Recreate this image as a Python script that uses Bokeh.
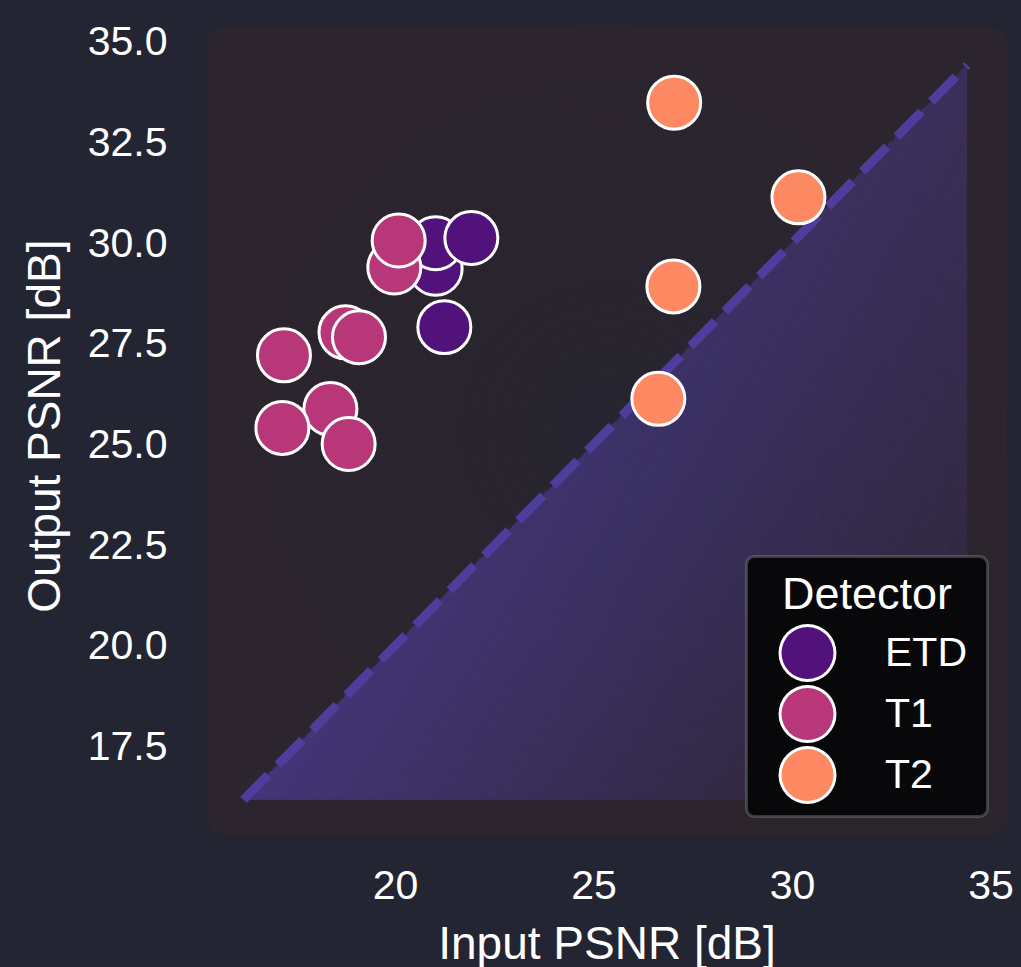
import numpy as np
from bokeh.plotting import figure
from bokeh.models import (Range1d, FixedTicker, NumeralTickFormatter, BoxAnnotation,
                          Legend, LegendItem, Label, GlobalInlineStyleSheet)
from bokeh.embed import file_html
from bokeh.resources import INLINE

# ---------------- data ----------------
detectors = ["ETD", "T1", "T2"]
palette = ["#51127c", "#b73779", "#fc8961"]

etd_input = [21.01, 21.01, 21.91, 21.23]
etd_output = [29.35, 29.98, 30.11, 27.90]
t1_input = [18.74, 19.08, 17.19, 18.36, 17.15, 18.82, 19.97, 20.08]
t1_output = [27.77, 27.65, 27.20, 25.87, 25.40, 25.00, 29.38, 30.05]
t2_input = [27.02, 30.15, 27.00, 26.62]
t2_output = [33.47, 31.12, 28.91, 26.12]

x_ticks = [20, 25, 30, 35]
y_ticks = [17.5, 20.0, 22.5, 25.0, 27.5, 30.0, 32.5, 35.0]
diag_lo, diag_hi = 16.17, 34.40
x_title = "Input PSNR [dB]"
y_title = "Output PSNR [dB]"
legend_title = "Detector"

# ---------------- style ----------------
FONT = "Liberation Sans"
PAGE_BG = "#232533"
PANEL_BG = "#2d252e"
TEXT = "#ffffff"
DIAG = "#4e3d9c"
NBSP = "\u00a0"

# panel (axes area) limits
X0, X1 = 15.239, 35.416
Y0, Y1 = 15.285, 35.385
PANEL_W, PANEL_H = 801, 810     # px size of the rounded panel
FRAME_W, FRAME_H = 815, 942     # frame runs to the right / bottom edge of the canvas
OFF = FRAME_H - PANEL_H         # px between panel bottom and frame bottom
XR = X0 + (X1 - X0) * FRAME_W / PANEL_W
YB = Y1 - (Y1 - Y0) * FRAME_H / PANEL_H

p = figure(width=1021, height=967, output_backend="svg", toolbar_location=None,
           x_range=Range1d(X0, XR), y_range=Range1d(YB, Y1),
           min_border_left=206, min_border_right=0, min_border_top=25, min_border_bottom=0,
           background_fill_color=PAGE_BG, border_fill_color=PAGE_BG, outline_line_color=None)
p.stylesheets = [GlobalInlineStyleSheet(css="html, body { background: %s; }" % PAGE_BG)]
p.grid.visible = False

for ax in (p.xaxis[0], p.yaxis[0]):
    ax.axis_line_color = None
    ax.major_tick_line_color = None
    ax.minor_tick_line_color = None
    ax.major_tick_out = 0
    ax.major_tick_in = 0
    ax.major_label_text_font = FONT
    ax.major_label_text_font_size = "41px"
    ax.major_label_text_color = TEXT
    ax.axis_label_text_font = FONT
    ax.axis_label_text_font_size = "46px"
    ax.axis_label_text_font_style = "normal"
    ax.axis_label_text_color = TEXT

p.xaxis.ticker = FixedTicker(ticks=x_ticks)
p.yaxis.ticker = FixedTicker(ticks=y_ticks)
p.yaxis.formatter = NumeralTickFormatter(format="0.0")
# the y title is centred on the (taller) frame; non-breaking spaces re-centre it on the panel
p.xaxis.axis_label = x_title
p.yaxis.axis_label = NBSP * 11 + y_title
p.xaxis.fixed_location = Y0
p.xaxis.bounds = (X0, X1)
p.yaxis.bounds = (Y0, Y1)
p.xaxis.major_label_standoff = 35
p.xaxis.axis_label_standoff = 15
p.yaxis.major_label_standoff = 39
p.yaxis.axis_label_standoff = 15

# rounded panel
panel = BoxAnnotation(left=X0, right=X1, bottom=Y0, top=Y1, fill_color=PANEL_BG,
                      fill_alpha=1, line_color=None, border_radius=20, level="underlay")
p.add_layout(panel)

# subtle darker centre of the panel
N = 300
ii, jj = np.mgrid[0:N, 0:N]
cx = (jj + 0.5) / N - 0.5
cy = (ii + 0.5) / N - 0.5
r = np.sqrt(cx ** 2 + cy ** 2)
a_rad = 0.65 * np.clip(1 - r / 0.5, 0, 1) ** 1.2
rad = np.zeros((N, N), dtype=np.uint32)
v = rad.view(dtype=np.uint8).reshape((N, N, 4))
v[..., 0], v[..., 1], v[..., 2] = 35, 37, 50
v[..., 3] = (a_rad * 255).astype(np.uint8)
p.image_rgba(image=[rad], x=X0, y=Y0, dw=X1 - X0, dh=Y1 - Y0)

# gradient triangle under the identity line
M = 400
ii, jj = np.mgrid[0:M, 0:M]
s = (jj + 0.5) / M
t = (ii + 0.5) / M
u = s - t
w = (s + t) / 2
a_tri = np.where(u >= 0, 0.80 * np.clip(1 - u, 0, 1) ** 0.9 * (1 - 0.42 * w), 0)
tri = np.zeros((M, M), dtype=np.uint32)
v = tri.view(dtype=np.uint8).reshape((M, M, 4))
v[..., 0], v[..., 1], v[..., 2] = 74, 58, 140
v[..., 3] = (a_tri * 255).astype(np.uint8)
p.image_rgba(image=[tri], x=diag_lo, y=diag_lo, dw=diag_hi - diag_lo, dh=diag_hi - diag_lo)

# identity line
p.line([diag_lo, diag_hi], [diag_lo, diag_hi], line_color=DIAG, line_width=9,
       line_dash="35 14")

# points
series = ((etd_input, etd_output), (t1_input, t1_output), (t2_input, t2_output))
items = []
for (xs, ys), col, name in zip(series, palette, detectors):
    rr = p.ellipse(x=xs, y=ys, width=53, height=53, width_units="screen",
                   height_units="screen", fill_color=col, fill_alpha=1,
                   line_color="white", line_width=3)
    # legend swatch: a single round dot (zero-length dash) with a white rim
    rim = p.line(x=[np.nan], y=[np.nan], line_color="white", line_width=58,
                 line_cap="round", line_dash="0 200", line_dash_offset=170)
    dot = p.line(x=[np.nan], y=[np.nan], line_color=col, line_width=52,
                 line_cap="round", line_dash="0 200", line_dash_offset=170)
    items.append(LegendItem(label=name, renderers=[rr, rim, dot]))

# legend frame
lbox = BoxAnnotation(left=540, right=781, top=279 + OFF, bottom=19 + OFF,
                     left_units="screen", right_units="screen",
                     top_units="screen", bottom_units="screen",
                     fill_color="#08080a", fill_alpha=1, line_color="#a8a8a8",
                     line_width=3, border_radius=8)
p.add_layout(lbox)

p.add_layout(Label(x=660.5, y=242 + OFF, x_units="screen", y_units="screen", text=legend_title,
                   text_align="center", text_baseline="alphabetic",
                   text_font=FONT, text_font_size="45px", text_color=TEXT))

legend = Legend(items=items, location=(571, 30 + OFF),
                glyph_width=61, glyph_height=61, spacing=0, label_standoff=47,
                padding=0, margin=0, border_line_alpha=0, background_fill_alpha=0,
                label_text_font=FONT, label_text_font_size="41px", label_text_color=TEXT)
p.add_layout(legend)

open("out.html", "w").write(file_html(p, INLINE))
